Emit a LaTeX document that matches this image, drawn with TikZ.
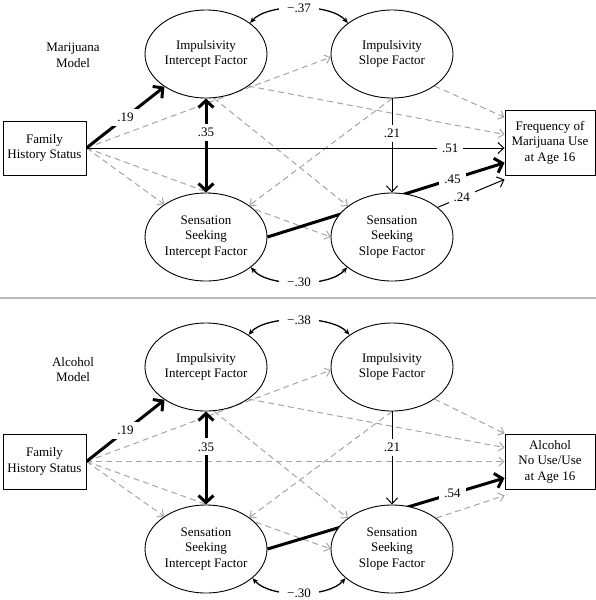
\documentclass[tikz,border=0pt]{standalone}
\usepackage{fontspec}
\setmainfont{Liberation Serif}
\usetikzlibrary{arrows.meta,shapes.geometric,calc}
\pgfdeclarelayer{bg}
\pgfsetlayers{bg,main}
\definecolor{dgray}{RGB}{165,165,165}
\definecolor{sepgray}{RGB}{185,185,185}
\begin{document}
\begin{tikzpicture}[x=1pt,y=-1pt,
  font=\fontsize{13}{15.5}\selectfont,
  lat/.style={ellipse,draw,line width=0.9pt,fill=white,minimum width=122pt,minimum height=88pt,inner sep=0pt,align=center},
  obs/.style={rectangle,draw,line width=0.9pt,fill=white,inner sep=0pt,align=center},
  plain/.style={align=center,inner sep=0pt},
  thinarr/.style={line width=1pt,-{Straight Barb[length=6pt,width=11pt]}},
  thickarr/.style={line width=3pt,-{Straight Barb[length=7pt,width=15pt]}},
  thickdbl/.style={line width=3pt,{Straight Barb[length=7pt,width=15pt]}-{Straight Barb[length=7pt,width=15pt]}},
  gdash/.style={line width=1pt,draw=dgray,dash pattern=on 6pt off 4pt,-{Straight Barb[length=5pt,width=9pt]}},
  cov/.style={line width=1.3pt,{Stealth[length=6pt,width=5pt]}-{Stealth[length=6pt,width=5pt]}},
  lbl/.style={fill=white,inner xsep=5pt,inner ysep=4pt},
  clbl/.style={fill=white,inner xsep=8pt,inner ysep=2pt},
]
\useasboundingbox (0,0) rectangle (596,600);

% ---------------- Marijuana model ----------------
\node[plain] (m1) at (73,55.5) {Marijuana\\Model};
\node[lat] (ii1) at (206,54) {Impulsivity\\Intercept Factor};
\node[lat] (is1) at (392,54) {Impulsivity\\Slope Factor};
\node[lat] (si1) at (206,237) {Sensation\\Seeking\\Intercept Factor};
\node[lat] (ss1) at (392,237) {Sensation\\Seeking\\Slope Factor};
\node[obs,minimum width=83pt,minimum height=54pt] (fh1) at (44.5,148) {Family\\History Status};
\node[obs,minimum width=90pt,minimum height=65pt] (out1) at (550,142.5) {Frequency of\\Marijuana Use\\at Age 16};

\begin{pgfonlayer}{bg}
\draw[gdash] (fh1.east) -- (is1.183);
\draw[gdash] (fh1.east) -- (si1.142);
\draw[gdash] (fh1.east) -- (ss1.west);
\draw[gdash] (ii1.-37) -- (out1.170);
\draw[gdash] (is1.-37) -- (out1.151);
\draw[gdash] (ii1.-80) -- (ss1.145);
\draw[gdash] (is1.south) -- (si1.36);
\draw[thickarr] (fh1.east) -- node[lbl,pos=.5]{.19} (ii1);
\draw[thinarr] (fh1.east) -- node[lbl,pos=.87]{.51} (fh1.east -| out1.west);
\draw[thickdbl] (ii1) -- node[lbl,pos=.36]{.35} (si1);
\draw[thinarr] (is1) -- node[lbl,pos=.37]{.21} (ss1);
\draw[thickarr] (si1.east) -- node[lbl,pos=.78]{.45} (out1.204);
\draw[thinarr] (ss1.33) -- node[lbl,pos=.36]{.24} ($(out1.south west)+(0,4)$);
\draw[cov] (ii1.35) .. controls +(17,-20) and +(-17,-20) .. node[clbl]{−.37} (is1.145);
\draw[cov] (si1.-34) .. controls +(17,20) and +(-17,20) .. node[clbl]{−.30} (ss1.-146);
\end{pgfonlayer}

% separator
\draw[line width=1.5pt,sepgray] (0,298) -- (596,298);

% ---------------- Alcohol model ----------------
\node[plain] (m2) at (73,369.5) {Alcohol\\Model};
\node[lat] (ii2) at (206,367) {Impulsivity\\Intercept Factor};
\node[lat] (is2) at (392,367) {Impulsivity\\Slope Factor};
\node[lat] (si2) at (206,549) {Sensation\\Seeking\\Intercept Factor};
\node[lat] (ss2) at (392,549) {Sensation\\Seeking\\Slope Factor};
\node[obs,minimum width=83pt,minimum height=55pt] (fh2) at (44.5,461.5) {Family\\History Status};
\node[obs,minimum width=90pt,minimum height=55pt] (out2) at (550,461.5) {Alcohol\\No Use/Use\\at Age 16};

\begin{pgfonlayer}{bg}
\draw[gdash] (fh2.east) -- (is2.183);
\draw[gdash] (fh2.east) -- (si2.142);
\draw[gdash] (fh2.east) -- (ss2.west);
\draw[gdash] (fh2.east) -- (fh2.east -| out2.west);
\draw[gdash] (ii2.-37) -- (out2.163);
\draw[gdash] (is2.-37) -- (out2.north west);
\draw[gdash] (ii2.-80) -- (ss2.145);
\draw[gdash] (is2.south) -- (si2.36);
\draw[gdash] (ss2.35) -- ($(out2.south west)+(0,6)$);
\draw[thickarr] (fh2.east) -- node[lbl,pos=.5]{.19} (ii2);
\draw[thickdbl] (ii2) -- node[lbl,pos=.38]{.35} (si2);
\draw[thinarr] (is2) -- node[lbl,pos=.39]{.21} (ss2);
\draw[thickarr] (si2.east) -- node[lbl,pos=.78]{.54} (out2.200);
\draw[cov] (ii2.37) .. controls +(17,-20) and +(-17,-20) .. node[clbl]{−.38} (is2.143);
\draw[cov] (si2.-32) .. controls +(17,20) and +(-17,20) .. node[clbl]{−.30} (ss2.-148);
\end{pgfonlayer}
\end{tikzpicture}
\end{document}
